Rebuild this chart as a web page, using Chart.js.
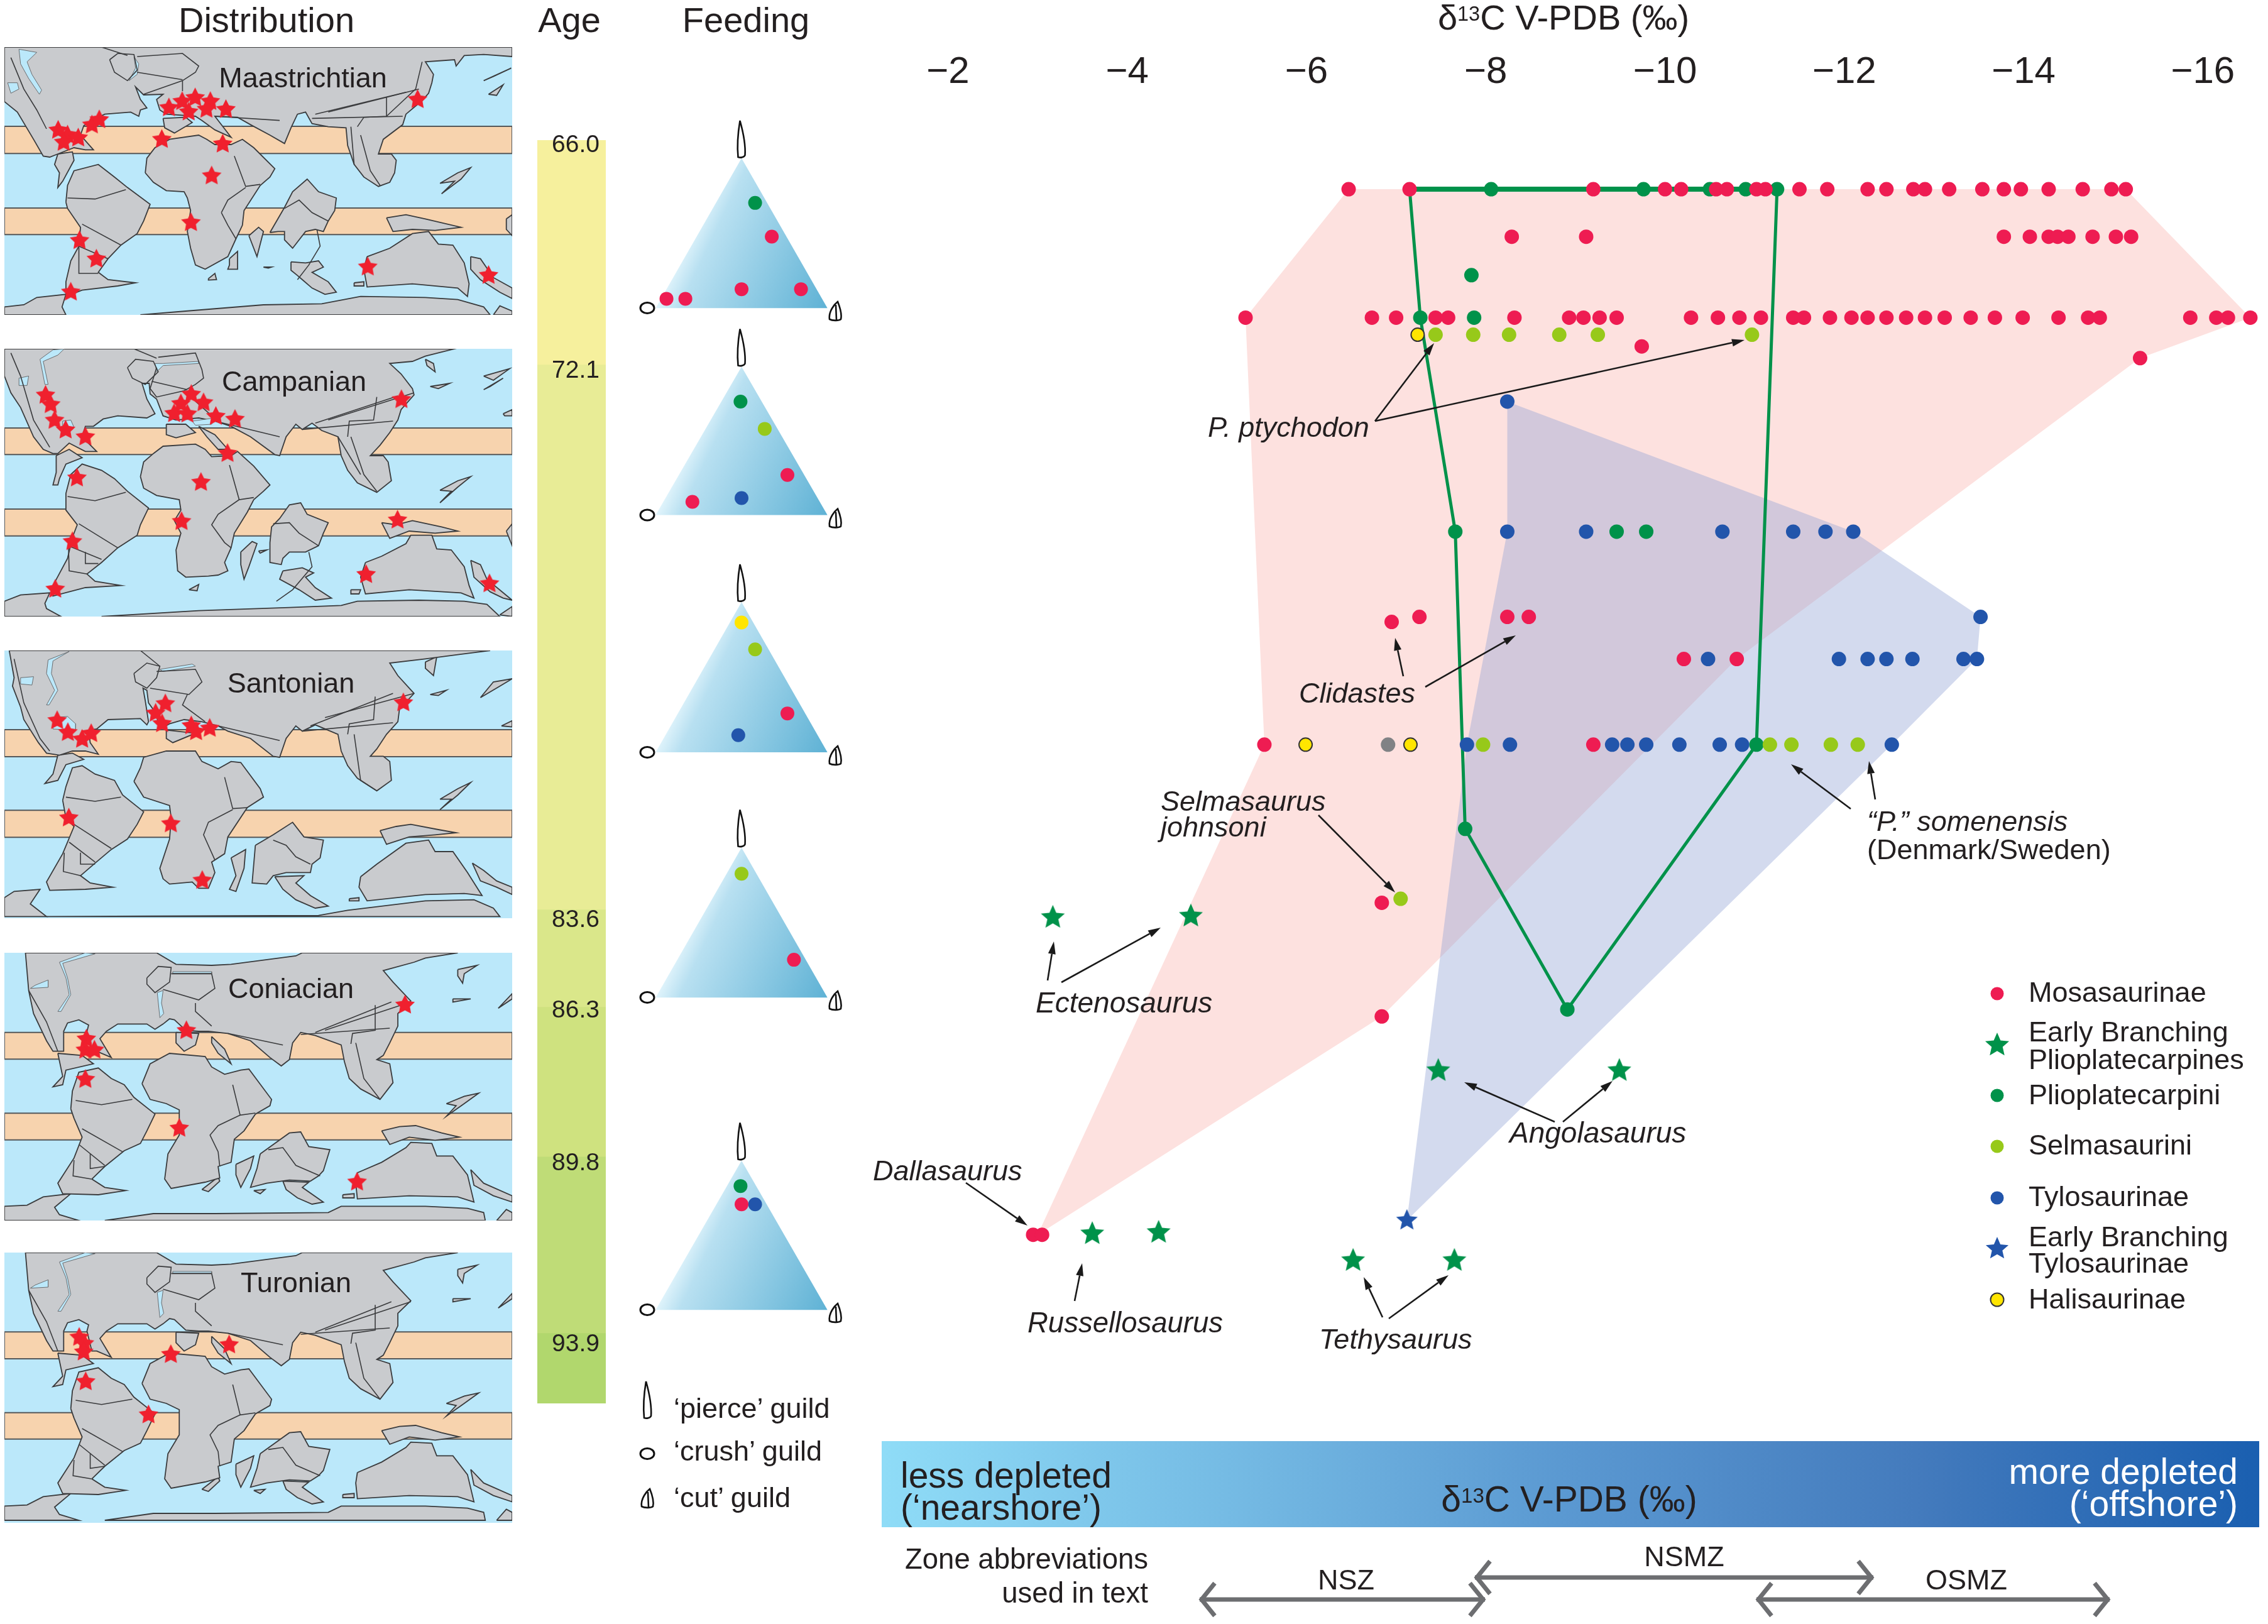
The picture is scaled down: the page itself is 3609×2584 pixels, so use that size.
<!DOCTYPE html>
<html><head><meta charset="utf-8">
<script src="https://cdn.jsdelivr.net/npm/chart.js@4/dist/chart.umd.js"></script>
<style>
html,body{margin:0;padding:0;background:#fff;width:3609px;height:2584px;overflow:hidden}
body{position:relative;font-family:"Liberation Sans",Arial,sans-serif;color:#231f20}
canvas{position:absolute;display:block}
.t{position:absolute;white-space:nowrap;transform:translateY(-50%);line-height:1}
.c{transform:translate(-50%,-50%)}
.r{transform:translate(-100%,-50%)}
.i{font-style:italic}
sup{font-size:58%;vertical-align:baseline;position:relative;top:-.42em;line-height:0}
svg{position:absolute;left:0;top:0}
</style></head><body>
<script>
/* ---------- main chart: d13C (per mil) vs. stratigraphic level ---------- */
const deltaTicks=[-2,-4,-6,-8,-10,-12,-14,-16];
const mosasaurinae=[
[-6.47,67.47],[-7.15,67.47],[-9.20,67.47],[-10.00,67.47],[-10.18,67.47],[-10.57,67.47],[-10.69,67.47],[-11.02,67.47],[-11.12,67.47],[-11.50,67.47],[-11.81,67.47],[-12.26,67.47],[-12.47,67.47],[-12.77,67.47],[-12.90,67.47],[-13.17,67.47],[-13.54,67.47],[-13.78,67.47],[-13.97,67.47],[-14.28,67.47],[-14.66,67.47],[-14.98,67.47],[-15.14,67.47],
[-8.29,68.89],[-9.12,68.89],[-13.78,68.89],[-14.07,68.89],[-14.28,68.89],[-14.38,68.89],[-14.50,68.89],[-14.77,68.89],[-15.03,68.89],[-15.20,68.89],
[-5.32,71.31],[-6.73,71.31],[-7.00,71.31],[-7.44,71.31],[-7.58,71.31],[-8.32,71.31],[-8.93,71.31],[-9.09,71.31],[-9.27,71.31],[-9.46,71.31],[-10.29,71.31],[-10.59,71.31],[-10.83,71.31],[-11.07,71.31],[-11.43,71.31],[-11.55,71.31],[-11.84,71.31],[-12.08,71.31],[-12.26,71.31],[-12.47,71.31],[-12.69,71.31],[-12.90,71.31],[-13.12,71.31],[-13.41,71.31],[-13.68,71.31],[-13.99,71.31],[-14.39,71.31],[-14.72,71.31],[-14.85,71.31],[-15.86,71.31],[-16.15,71.31],[-16.28,71.31],[-16.53,71.31],
[-9.74,72.17],[-15.30,72.52],
[-7.26,80.26],[-8.24,80.26],[-8.48,80.26],[-6.95,80.41],
[-10.21,81.52],[-10.80,81.52],
[-5.53,84.08],[-9.20,84.08],
[-6.84,88.81],[-6.84,92.21],[-2.95,98.74],[-3.05,98.74]];
const plioplatecarpini=[[-8.06,67.47],[-9.76,67.47],[-10.50,67.47],[-10.90,67.47],[-11.25,67.47],[-7.84,70.04],[-7.27,71.31],[-7.87,71.31],[-7.66,77.71],[-9.46,77.71],[-9.79,77.71],[-11.02,84.08],[-7.77,86.60],[-8.91,92.0]];
const selmasaurini=[[-7.44,71.82],[-7.86,71.82],[-8.26,71.82],[-8.82,71.82],[-9.25,71.82],[-10.97,71.82],[-7.97,84.08],[-11.17,84.08],[-11.41,84.08],[-11.85,84.08],[-12.15,84.08],[-7.05,88.69]];
const tylosaurinae=[[-8.24,73.82],[-8.24,77.71],[-9.12,77.71],[-10.64,77.71],[-11.43,77.71],[-11.79,77.71],[-12.10,77.71],[-13.52,80.26],[-10.48,81.52],[-11.94,81.52],[-12.26,81.52],[-12.47,81.52],[-12.76,81.52],[-13.33,81.52],[-13.48,81.52],[-7.79,84.08],[-8.27,84.08],[-9.41,84.08],[-9.58,84.08],[-9.79,84.08],[-10.16,84.08],[-10.61,84.08],[-10.86,84.08],[-12.53,84.08]];
const halisaurinae=[[-7.24,71.82],[-5.99,84.08],[-7.16,84.08]];
const unassigned=[[-6.91,84.08]];
const earlyPlioplatecarpines=[[-3.17,89.25],[-4.71,89.21],[-7.47,93.83],[-9.49,93.83],[-3.61,98.71],[-4.35,98.67],[-6.52,99.51],[-7.65,99.51]];
const earlyTylosaurinae=[[-7.12,98.31]];
const mosasaurineEnvelope=[[-6.47,67.47],[-15.14,67.47],[-16.53,71.31],[-15.30,72.52],[-10.80,81.52],[-6.84,92.21],[-3.00,98.74],[-5.53,84.08],[-5.32,71.31]];
const tylosaurineEnvelope=[[-8.24,73.82],[-12.10,77.71],[-13.52,80.26],[-13.48,81.52],[-12.53,84.08],[-7.12,98.31],[-7.79,84.08],[-8.24,77.71]];
const plioplatecarpineEnvelope=[[-7.15,67.47],[-11.25,67.47],[-11.02,84.08],[-8.91,92.0],[-7.77,86.60],[-7.66,77.71],[-7.27,71.31],[-7.15,67.47]];
const plioplatecarpineTop=[[-7.15,67.47],[-11.25,67.47]];

/* ---------- age column ---------- */
const ageBoundaries=[66.0,72.1,83.6,86.3,89.8,93.9,95.5];
const ageDrawnFraction=[0,0.1776,0.6089,0.686,0.8045,0.9443,1];
const ageColours=['#f6f09d','#e8ec96','#dae78a','#cfe27f','#bfdc77','#b1d76d'];
const ageLabels=['66.0','72.1','83.6','86.3','89.8','93.9'];

/* ---------- feeding ternaries: [x,y] in the triangle's unit frame ---------- */
const feedingPanels=[
 {red:[[.676,.477],[.5,.126],[.846,.126],[.063,.062],[.173,.062]],green:[[.579,.702]],lime:[],blue:[],yellow:[]},
 {red:[[.767,.27],[.214,.089]],green:[[.494,.765]],lime:[[.635,.581]],blue:[[.5,.114]],yellow:[]},
 {red:[[.767,.259]],green:[],lime:[[.579,.685]],blue:[[.481,.114]],yellow:[[.5,.864]]},
 {red:[[.805,.252]],green:[],lime:[[.5,.826]],blue:[],yellow:[]},
 {red:[[.5,.707]],green:[[.494,.83]],lime:[],blue:[[.579,.707]],yellow:[]}
];
const triangleOutline=[[0,0],[1,0],[.5,1],[0,0]];

/* ---------- palaeogeographic maps (traced outlines) ---------- */
const maastrichtianLand=[
[[0,0],[1568,0],[1568,45],[1480,35],[1420,40],[1395,90],[1390,60],[1300,70],[1325,130],[1320,170],[1310,220],[1290,255],[1240,320],[1230,370],[1170,440],[1155,510],[1195,510],[1210,540],[1205,600],[1190,645],[1155,665],[1110,620],[1080,560],[1060,470],[1055,385],[1000,380],[950,365],[930,310],[905,320],[885,385],[865,460],[820,420],[760,370],[720,335],[650,330],[680,390],[700,430],[650,395],[610,350],[590,330],[500,320],[480,300],[470,250],[490,225],[430,228],[405,190],[420,250],[440,290],[420,300],[415,330],[390,310],[310,320],[270,350],[245,375],[235,420],[275,490],[250,490],[215,480],[165,510],[140,525],[120,520],[90,440],[40,310],[0,260]],
[[490,340],[560,335],[580,360],[525,410],[495,385]],
[[165,510],[210,500],[215,540],[180,640],[165,670],[170,600],[155,560]],
[[190,740],[195,660],[215,590],[290,560],[340,620],[380,670],[450,750],[430,830],[410,890],[360,945],[320,1010],[290,1075],[320,1110],[405,1125],[350,1140],[240,1160],[190,1190],[190,1120],[205,1020],[230,950],[235,860],[195,770]],
[[435,600],[440,530],[465,480],[510,440],[600,420],[625,440],[650,465],[700,465],[735,440],[770,480],[835,580],[820,620],[790,660],[740,780],[735,850],[715,915],[690,1000],[620,1060],[590,1040],[575,960],[565,880],[575,780],[565,720],[555,690],[500,685],[460,645]],
[[755,900],[785,860],[800,880],[780,1000],[770,960]],
[[630,1105],[650,1080],[655,1110],[630,1112]],[[800,1050],[825,1050],[815,1055]],
[[695,1010],[720,975],[720,1060],[690,1060],[695,1040]],
[[820,885],[865,765],[890,690],[935,630],[970,690],[1025,720],[1020,780],[1000,830],[985,880],[960,870],[930,880],[890,960],[865,920],[865,880],[845,880]],
[[885,1025],[930,1030],[970,1020],[985,1050],[950,1075],[1000,1120],[1025,1170],[990,1180],[950,1150],[920,1110],[905,1090],[885,1065]],
[[0,1240],[60,1230],[100,1195],[190,1180],[178,1240],[190,1278],[0,1278]],
[[420,1278],[560,1260],[800,1230],[980,1225],[1100,1190],[1300,1195],[1400,1205],[1480,1240],[1500,1278]],
[[1510,1278],[1530,1235],[1568,1260],[1568,1278]],
[[1120,1000],[1190,960],[1260,890],[1310,880],[1340,940],[1385,945],[1420,1030],[1435,1130],[1430,1190],[1400,1150],[1260,1130],[1120,1145],[1110,1060]],
[[1180,815],[1240,800],[1300,820],[1410,860],[1330,875],[1260,870],[1200,880]],
[[1440,1000],[1470,1010],[1510,1100],[1568,1150],[1568,1200],[1530,1170],[1470,1110],[1440,1060]],
[[1345,650],[1400,600],[1440,575],[1410,630],[1350,700],[1390,640]],[[1480,160],[1565,100],[1510,140]],[[1495,225],[1540,180],[1520,230]],[[1550,820],[1568,800],[1568,900],[1550,870]],[[1080,1125],[1110,1120],[1110,1140],[1080,1140]]];
const maastrichtianSeas=[[[45,10],[100,25],[70,70],[85,130],[115,205],[108,225],[75,150],[50,80]],[[400,45],[415,80],[410,130],[385,160],[405,100]],[[10,170],[40,170],[45,200],[20,220]]];
const maastrichtianPlates=[[[710,520],[745,665],[790,655]],[[670,790],[690,730],[745,670]],[[670,790],[690,850],[715,915]],[[195,720],[280,725],[375,680]],[[240,845],[360,945]],[[230,950],[320,1010]],[[230,955],[230,1080],[290,1080]],[[325,60],[350,30],[400,35],[410,110],[380,160],[340,120],[325,60]],[[300,0],[380,40]],[[410,45],[550,30],[600,90],[590,120],[550,160],[430,225]],[[410,120],[550,155]],[[550,160],[550,210]],[[960,320],[1240,215]],[[1000,310],[1280,200]],[[1180,240],[1180,330],[1110,335],[1090,380]],[[1100,420],[1130,590],[1160,660]],[[1070,380],[1080,560]],[[650,330],[850,350]],[[950,340],[1230,330]],[[20,50],[60,200],[100,300],[130,390]],[[865,770],[910,730],[950,790],[1000,830]],[[965,870],[975,950],[940,1040],[905,1110]],[[1290,70],[1270,200],[1180,330]]];
const maastrichtianBands=[[378,508],[768,895]];
const maastrichtianStars=[[166,397],[195,420],[183,455],[228,434],[270,372],[293,347],[486,441],[508,290],[549,260],[589,242],[636,260],[569,310],[624,297],[684,298],[674,463],[1276,251],[640,615],[576,838],[232,924],[284,1012],[205,1170],[1122,1050],[1495,1090]];

const campanianLand=[
[[0,0],[1390,0],[1300,35],[1260,60],[1190,70],[1225,120],[1260,190],[1265,220],[1225,290],[1215,340],[1190,400],[1160,460],[1130,510],[1170,510],[1185,540],[1195,630],[1150,685],[1090,640],[1060,580],[1040,510],[1030,420],[980,390],[950,355],[920,385],[900,360],[870,420],[850,510],[835,505],[760,420],[700,370],[650,345],[600,330],[530,340],[490,320],[480,280],[470,240],[450,215],[447,165],[425,165],[440,240],[465,310],[440,330],[350,320],[305,335],[275,370],[250,370],[240,420],[285,490],[250,490],[200,450],[165,500],[150,500],[120,480],[90,420],[50,280],[20,210],[0,130]],
[[500,360],[560,360],[590,400],[530,425],[500,410]],
[[600,370],[650,410],[690,480],[660,480],[625,420]],
[[160,510],[200,480],[240,520],[190,550],[170,620],[165,650],[150,650],[160,590]],
[[190,740],[190,690],[205,600],[240,550],[300,580],[340,620],[380,680],[445,760],[420,840],[410,890],[350,950],[300,1020],[255,1075],[280,1110],[360,1130],[250,1140],[150,1180],[150,1130],[195,1000],[210,900],[225,840],[190,770]],
[[420,610],[430,540],[460,500],[490,465],[590,455],[620,480],[640,515],[700,510],[720,490],[770,560],[820,650],[800,680],[770,720],[750,780],[710,880],[700,950],[680,1020],[690,1060],[660,1080],[630,1085],[560,1090],[535,1060],[530,960],[545,880],[525,820],[545,770],[540,720],[470,700],[430,665]],
[[730,970],[765,920],[780,930],[755,1040],[740,1100],[730,1030]],
[[570,1150],[600,1125],[595,1155]],[[785,965],[810,960],[790,975]],
[[820,925],[825,850],[850,810],[880,745],[915,735],[935,790],[1000,830],[985,880],[970,940],[930,970],[880,970],[860,1000],[855,1030],[820,1020]],
[[860,1060],[920,1045],[955,1070],[930,1090],[960,1140],[1010,1190],[960,1200],[910,1150],[850,1100]],
[[1115,1020],[1165,990],[1240,930],[1255,890],[1320,890],[1335,955],[1380,960],[1420,1040],[1435,1130],[1450,1190],[1410,1165],[1250,1150],[1115,1170],[1100,1090]],
[[1165,830],[1210,840],[1260,820],[1350,850],[1400,870],[1330,880],[1250,870],[1190,905]],
[[1440,1010],[1470,1030],[1490,1100],[1568,1200],[1540,1190],[1500,1160],[1450,1090]],
[[1345,675],[1400,630],[1440,610],[1400,660],[1345,735],[1380,680]],[[1480,130],[1560,95],[1510,150]],[[1315,180],[1375,165],[1340,190]],[[1480,195],[1540,140],[1500,180]],[[1540,310],[1568,290],[1568,320],[1545,320]],[[1300,50],[1325,70],[1330,110],[1305,80]],[[1070,1150],[1100,1150],[1095,1170],[1070,1170]],[[1550,870],[1568,835],[1568,940]],
[[0,1205],[50,1175],[140,1165],[125,1215],[130,1240],[175,1278],[0,1278]],
[[300,1278],[600,1250],[880,1235],[1040,1225],[1090,1205],[1280,1200],[1420,1205],[1490,1220],[1530,1278]],
[[1530,1270],[1568,1230],[1568,1278]]];
const campanianSeas=[[[45,140],[75,130],[70,175],[45,175]],[[185,0],[150,5],[110,50],[125,170],[135,170],[120,60],[165,30]],[[180,345],[205,340],[215,375],[210,385],[180,375]],[[465,70],[490,70],[600,60],[600,70],[490,80],[470,110]],[[580,345],[650,330],[640,360],[590,365]]];
const campanianPlates=[[[695,555],[725,720],[770,710]],[[725,720],[660,790],[640,840],[680,925],[700,950]],[[195,705],[280,725],[375,685]],[[230,835],[350,950]],[[205,945],[300,1005]],[[250,970],[250,1025],[290,1025]],[[198,950],[200,1060],[255,1075]],[[380,90],[405,50],[460,60],[475,110],[435,170],[395,140],[380,90]],[[400,0],[470,45]],[[475,40],[590,20],[610,100],[615,140],[590,170],[555,200],[470,230],[450,190],[470,90]],[[455,155],[565,195]],[[590,250],[655,340]],[[960,355],[1215,225]],[[1000,340],[1265,210]],[[1150,230],[1140,340],[1065,345],[1060,420]],[[1070,420],[1110,600],[1150,680]],[[1030,420],[1100,600]],[[650,345],[850,420]],[[920,385],[1200,345]],[[830,835],[880,830],[910,880],[970,940]],[[940,970],[950,1040],[890,1150],[840,1205]],[[20,20],[50,130],[90,340],[140,470]]];
const campanianBands=[[378,505],[765,893]];
const campanianStars=[[127,222],[143,267],[155,342],[189,388],[250,421],[224,617],[210,921],[157,1148],[577,218],[545,263],[615,258],[524,310],[565,312],[653,323],[712,337],[689,500],[1226,243],[607,638],[547,825],[1214,818],[1117,1078],[1498,1122]];

const santonianLand=[
[[15,0],[1500,0],[1400,20],[1300,40],[1190,60],[1215,120],[1265,205],[1220,280],[1215,340],[1180,400],[1150,470],[1130,505],[1170,505],[1190,530],[1195,620],[1150,670],[1090,610],[1060,550],[1040,480],[1030,400],[960,355],[920,385],[900,360],[870,420],[850,510],[830,505],[760,420],[690,385],[660,360],[610,340],[555,330],[510,350],[480,375],[468,300],[445,250],[440,190],[428,180],[435,240],[445,340],[440,355],[420,325],[320,330],[285,375],[260,380],[265,440],[290,495],[250,480],[210,480],[170,500],[130,490],[105,440],[60,330],[50,270],[25,170],[30,130]],
[[500,380],[590,395],[520,440],[500,420]],
[[165,500],[210,490],[245,520],[190,545],[165,620],[125,635],[150,590]],
[[180,715],[190,650],[210,560],[240,550],[280,590],[340,620],[365,690],[430,770],[410,830],[380,900],[330,950],[280,1015],[235,1075],[265,1110],[335,1130],[250,1140],[140,1145],[130,1105],[180,970],[215,840],[190,800]],
[[400,625],[420,560],[430,510],[500,480],[590,480],[610,530],[660,565],[700,530],[730,535],[790,660],[800,700],[750,750],[690,890],[680,970],[640,1010],[650,1060],[630,1135],[600,1135],[580,1105],[510,1115],[490,1090],[480,1040],[510,900],[515,800],[510,740],[430,700]],
[[700,990],[745,950],[740,1040],[715,1150],[695,1140],[715,1075]],
[[775,930],[830,880],[890,820],[925,890],[985,905],[975,990],[950,1020],[945,1060],[870,1060],[830,1075],[810,1115],[765,1110]],
[[835,1080],[925,1075],[900,1110],[945,1170],[1000,1220],[960,1230],[900,1190],[860,1140]],
[[1100,1080],[1150,1020],[1240,920],[1310,905],[1330,960],[1385,960],[1430,1060],[1475,1170],[1420,1160],[1300,1165],[1120,1195],[1095,1130]],
[[1160,860],[1210,840],[1255,830],[1340,855],[1395,870],[1330,880],[1250,890],[1180,925]],
[[1445,1015],[1480,1050],[1520,1100],[1568,1130],[1568,1165],[1520,1130],[1470,1100]],
[[1345,710],[1400,660],[1440,630],[1400,690],[1345,760],[1380,710]],[[1470,225],[1510,150],[1568,135],[1530,170]],[[1315,210],[1365,190],[1340,215]],[[1300,55],[1335,30],[1325,120],[1300,85]],[[1535,360],[1568,335],[1568,365]],[[1065,1185],[1095,1180],[1095,1195],[1065,1195]],
[[0,1180],[30,1150],[110,1140],[80,1210],[130,1270],[0,1270]],
[[130,1270],[440,1268],[970,1265],[1060,1240],[1300,1195],[1450,1190],[1510,1230],[1530,1270]]];
const santonianSeas=[[[200,5],[135,45],[130,110],[155,190],[130,260],[138,260],[165,190],[145,110],[150,50]],[[50,130],[90,125],[85,165],[50,160]],[[480,90],[580,65],[590,75],[490,100]],[[150,320],[195,315],[220,350],[220,380],[150,375]]];
const santonianPlates=[[[680,605],[705,755],[750,750]],[[705,760],[630,820],[615,880],[650,1000]],[[190,700],[280,720],[360,700]],[[215,830],[330,945]],[[200,915],[280,1010]],[[235,965],[235,1020],[280,1020]],[[185,965],[182,1055],[235,1075]],[[400,110],[440,60],[480,75],[470,130],[440,180],[405,150],[400,110]],[[470,100],[590,90],[610,150],[570,210],[450,180]],[[420,0],[480,75]],[[565,210],[550,260],[620,340]],[[945,360],[1200,205]],[[990,320],[1265,205]],[[1145,220],[1140,330],[1065,350],[1060,400]],[[1080,400],[1100,620],[1145,665]],[[830,905],[870,930],[900,985],[945,1020]],[[660,360],[850,430]],[[920,385],[1200,345]],[[30,40],[60,250],[110,420],[140,480]]];
const santonianBands=[[378,507],[763,892]];
const santonianStars=[[163,335],[196,392],[240,424],[268,397],[497,255],[467,300],[487,350],[577,360],[592,388],[634,372],[1232,250],[199,800],[514,828],[611,1098]];

const turonianLand=[
[[65,0],[470,0],[530,55],[640,60],[700,55],[900,15],[920,0],[1400,0],[1300,25],[1265,45],[1170,85],[1200,140],[1255,230],[1215,290],[1215,350],[1190,430],[1170,490],[1150,510],[1190,530],[1200,620],[1160,700],[1100,650],[1065,600],[1050,520],[1040,440],[960,395],[915,380],[890,430],[880,510],[855,540],[820,500],[760,420],[690,385],[630,375],[600,375],[560,370],[525,320],[510,315],[490,340],[465,365],[440,340],[350,340],[315,375],[295,410],[330,500],[285,470],[270,470],[255,375],[260,345],[230,320],[195,335],[183,375],[183,470],[150,470],[130,420],[90,290],[75,180]],
[[530,380],[600,385],[590,440],[555,470],[530,430]],
[[640,400],[680,460],[700,530],[660,480],[640,430]],
[[165,480],[240,490],[275,530],[190,560],[180,630],[150,640],[180,590]],
[[205,745],[210,660],[230,570],[290,550],[330,600],[370,630],[400,690],[465,770],[440,850],[420,910],[370,945],[310,1020],[270,1080],[310,1120],[375,1135],[290,1155],[180,1150],[165,1100],[215,980],[240,880],[215,790]],
[[425,625],[450,530],[510,480],[620,495],[640,545],[680,580],[730,560],[755,555],[825,700],[820,730],[775,770],[740,850],[710,890],[700,1000],[660,1020],[665,1075],[620,1095],[515,1125],[495,1080],[505,960],[540,870],[540,750],[500,720],[450,700]],
[[715,1010],[770,970],[760,1030],[730,1120],[715,1060]],
[[610,1130],[660,1070],[665,1090],[630,1140]],
[[790,960],[880,860],[915,855],[940,925],[1005,940],[985,1040],[970,1065],[945,1090],[880,1085],[810,1100],[760,1120],[780,1030]],
[[860,1090],[940,1095],[920,1120],[985,1190],[950,1200],[905,1170],[870,1130]],
[[770,1135],[805,1130],[790,1150]],
[[1090,1050],[1165,1000],[1240,930],[1255,905],[1320,910],[1335,970],[1385,970],[1430,1060],[1450,1190],[1400,1165],[1250,1160],[1090,1175],[1085,1100]],
[[1165,850],[1220,830],[1270,825],[1350,860],[1405,880],[1330,895],[1250,880],[1190,915]],
[[1440,1035],[1480,1100],[1568,1160],[1568,1190],[1510,1160],[1450,1110]],
[[1365,720],[1420,685],[1465,670],[1420,720],[1365,780],[1395,730]],[[1400,80],[1460,60],[1420,100],[1415,145],[1400,110]],[[1385,220],[1440,220],[1385,235]],[[1525,265],[1568,195],[1568,220]],[[1070,10],[1170,40],[1080,40]],[[1045,1155],[1080,1150],[1080,1170],[1045,1170]],
[[0,1210],[70,1205],[120,1165],[205,1150],[155,1215],[170,1250],[230,1278],[0,1278]],
[[310,1278],[460,1245],[650,1245],[1000,1240],[1040,1210],[1300,1210],[1430,1220],[1480,1240],[1485,1278]],
[[1520,1278],[1550,1225],[1568,1240],[1568,1278]]];
const turonianSeas=[[[250,0],[170,45],[190,120],[200,200],[165,280],[175,280],[205,200],[195,120],[180,50],[280,5]],[[95,155],[135,130],[135,165],[80,170]],[[520,90],[640,90],[640,98],[520,98]],[[472,190],[490,180],[485,240],[492,290],[480,310]]];
const turonianPlates=[[[705,630],[728,775],[775,765]],[[728,775],[660,825],[635,870],[660,950],[665,1020]],[[220,705],[300,725],[395,700]],[[240,840],[365,950]],[[230,915],[310,1015]],[[265,960],[265,1030],[310,1020]],[[215,990],[212,1065],[268,1080]],[[440,120],[475,65],[515,70],[510,140],[465,190],[440,150],[440,120]],[[515,100],[640,100],[650,170],[600,225],[490,175]],[[590,240],[590,280],[640,350]],[[960,380],[1195,235]],[[990,370],[1255,235]],[[1145,250],[1145,370],[1075,385],[1070,435]],[[1085,430],[1110,600],[1160,700]],[[815,940],[860,930],[900,1015],[975,1065]],[[690,385],[860,440]],[[915,390],[1190,360]],[[75,180],[130,330],[165,470]]];
const coniacianBands=[[380,508],[766,893]];
const coniacianStars=[[253,412],[250,465],[278,465],[562,372],[1237,250],[250,605],[540,838],[1089,1095]];
const turonianBands=[[379,507],[764,890]];
const turonianStars=[[231,405],[247,435],[245,475],[514,487],[694,441],[251,617],[445,775]];

const stageNames=['Maastrichtian','Campanian','Santonian','Coniacian','Turonian'];

/* ---------- styling helpers ---------- */
const RED='#ee1c52',GREEN='#00924a',LIME='#97c91a',BLUE='#2255ab',YELLOW='#ffe500',GREY='#808285',INK='#231f20';
const FONT='"Liberation Sans", Arial, sans-serif';
Chart.defaults.font.family=FONT;
Chart.defaults.animation=false;
function el(tag,parent){const e=document.createElement(tag);(parent||document.body).appendChild(e);return e;}
function makeCanvas(x,y,w,h,bg){const c=el('canvas');c.width=w;c.height=h;c.style.left=x+'px';c.style.top=y+'px';c.style.width=w+'px';c.style.height=h+'px';if(bg)c.style.background=bg;return c;}
function label(text,x,y,size,cls,colour){const d=el('div');d.className='t '+(cls||'');d.innerHTML=text;d.style.left=x+'px';d.style.top=y+'px';d.style.fontSize=size+'px';if(colour)d.style.color=colour;return d;}
function star(colour,r,inner){const c=document.createElement('canvas');const s=Math.ceil(r*2+2);c.width=s;c.height=s;const g=c.getContext('2d');g.fillStyle=colour;g.beginPath();for(let i=0;i<10;i++){const a=-Math.PI/2+i*Math.PI/5,q=i%2?r*(inner||.42):r;g.lineTo(s/2+q*Math.cos(a),s/2+q*Math.sin(a));}g.closePath();g.fill();return c;}
const baseOpts=(x,y)=>({responsive:false,devicePixelRatio:1,animation:false,events:[],layout:{padding:0,autoPadding:false},plugins:{legend:{display:false},tooltip:{enabled:false}},scales:{x:Object.assign({type:'linear',display:false},x),y:Object.assign({type:'linear',display:false},y)}});
const dots=(data,colour,r,order,extra)=>Object.assign({data,showLine:false,pointRadius:r,pointBackgroundColor:colour,pointBorderWidth:0,pointBorderColor:colour,order,clip:false},extra||{});
const poly=(pts,fillColour,line,w,order)=>({data:pts.concat([pts[0]]),showLine:true,fill:'shape',backgroundColor:fillColour,borderColor:line,borderWidth:w,pointRadius:0,order,tension:0});
const open=(pts,line,w,order)=>({data:pts,showLine:true,fill:false,borderColor:line,borderWidth:w,pointRadius:0,order,tension:0});

/* ---------- main chart ---------- */
const mainCanvas=makeCanvas(1350,0,2259,2584);
const mainOpts=baseOpts({min:-16.727,max:-0.889,reverse:true},{min:64.63,max:110.38,reverse:true});
Object.assign(mainOpts.scales.x,{display:true,position:'top',
  afterBuildTicks:s=>{s.ticks=deltaTicks.map(v=>({value:v}));},
  afterFit:s=>{s.height=150;},
  grid:{display:false},border:{display:false},
  ticks:{autoSkip:false,maxRotation:0,padding:-9,color:INK,font:{size:60,family:FONT},callback:v=>'\u2212'+Math.abs(v)}});
new Chart(mainCanvas,{type:'scatter',data:{datasets:[
  poly(mosasaurineEnvelope,'#fde1df','rgba(0,0,0,0)',0,20),
  poly(tylosaurineEnvelope,'rgba(145,162,212,.4)','rgba(0,0,0,0)',0,19),
  open(plioplatecarpineEnvelope,GREEN,5,10),
  open(plioplatecarpineTop,GREEN,8,9),
  dots(plioplatecarpini,GREEN,11.5,5),
  dots(selmasaurini,LIME,11.5,4),
  dots(tylosaurinae,BLUE,11.5,3),
  dots(unassigned,GREY,11.5,3),
  dots(mosasaurinae,RED,11.5,2),
  dots(halisaurinae,YELLOW,10.5,1,{pointBorderWidth:2,pointBorderColor:'#333'}),
  dots(earlyPlioplatecarpines,GREEN,8,1,{pointStyle:star(GREEN,20,.46)}),
  dots(earlyTylosaurinae,BLUE,8,1,{pointStyle:star(BLUE,18,.46)})
]},options:mainOpts});

/* ---------- age column: piecewise scale ---------- */
class StageScale extends Chart.LinearScale{
  getPixelForValue(v){
    let i=0;while(i<ageBoundaries.length-2&&v>ageBoundaries[i+1])i++;
    const a=ageBoundaries[i],b=ageBoundaries[i+1],fa=ageDrawnFraction[i],fb=ageDrawnFraction[i+1];
    return this.top+this.height*(fa+(v-a)/(b-a)*(fb-fa));
  }
}
StageScale.id='stage';StageScale.defaults={};
Chart.register(StageScale);
const ageCanvas=makeCanvas(855,223,109,2010);
const ageOpts=baseOpts({},{});
ageOpts.scales={x:{type:'category',display:false,offset:true},y:{type:'stage',display:false,min:66,max:95.5}};
new Chart(ageCanvas,{type:'bar',data:{labels:['Age'],datasets:ageColours.map((c,i)=>({data:[[ageBoundaries[i],ageBoundaries[i+1]]],backgroundColor:c,barPercentage:1,categoryPercentage:1,grouped:false,borderWidth:0}))},options:ageOpts});
const ageLabelY=[228,587,1461,1605,1848,2136];
ageLabels.forEach((t,i)=>label(t,916,ageLabelY[i],39,'c'));

/* ---------- feeding ternaries ---------- */
const triTop=[252,583.5,958,1348.5,1846.5],triH=[238,236,239,238.5,237.5];
feedingPanels.forEach((p,i)=>{
  const W=273.5,pad=.1,cx=1043.5-W*pad,cy=triTop[i]-triH[i]*pad,cw=Math.round(W*1.2),ch=Math.round(triH[i]*1.2);
  const c=makeCanvas(cx,cy,cw,ch);
  const g=c.getContext('2d').createLinearGradient(27,130,300,260);
  g.addColorStop(.18,'#e3f5fc');g.addColorStop(.3,'#b8e0f1');g.addColorStop(1,'#5fb2d5');
  new Chart(c,{type:'scatter',data:{datasets:[
    {data:triangleOutline,showLine:true,fill:'shape',backgroundColor:g,borderWidth:0,borderColor:'rgba(0,0,0,0)',pointRadius:0,order:9},
    dots(p.green,GREEN,11,4),dots(p.lime,LIME,11,3),dots(p.blue,BLUE,11,2),dots(p.red,RED,11,1),dots(p.yellow,YELLOW,11,1)
  ]},options:baseOpts({min:-pad,max:1+pad},{min:-pad,max:1+pad})});
});

/* ---------- maps ---------- */
const mapPanels=[
 {top:75,h:426,yMax:1278,land:maastrichtianLand,seas:maastrichtianSeas,plates:maastrichtianPlates,bands:maastrichtianBands,stars:maastrichtianStars},
 {top:555,h:426,yMax:1278,land:campanianLand,seas:campanianSeas,plates:campanianPlates,bands:campanianBands,stars:campanianStars},
 {top:1035,h:426,yMax:1278,land:santonianLand,seas:santonianSeas,plates:santonianPlates,bands:santonianBands,stars:santonianStars},
 {top:1516,h:426,yMax:1278,land:turonianLand,seas:turonianSeas,plates:turonianPlates,bands:coniacianBands,stars:coniacianStars},
 {top:1993,h:430,yMax:1290,land:turonianLand,seas:turonianSeas,plates:turonianPlates,bands:turonianBands,stars:turonianStars}];
const mapStar=star('#f0202e',16.5,.5);
mapPanels.forEach(m=>{
  const c=makeCanvas(7,m.top,808,m.h,'#bbe8fa');
  const ds=[];
  m.bands.forEach(b=>ds.push(poly([[0,b[0]],[1568,b[0]],[1568,b[1]],[0,b[1]]],'#f7d3ae','#55585a',2,30)));
  m.land.forEach(p=>ds.push(poly(p,'#c9cbce','#3a3b3d',1.8,20)));
  m.seas.forEach(p=>ds.push(poly(p,'#bbe8fa','#6b6d70',1,15)));
  m.plates.forEach(p=>ds.push(open(p,'#3a3b3d',1.6,10)));
  ds.push(dots(m.stars,'#f0202e',6,1,{pointStyle:mapStar}));
  new Chart(c,{type:'scatter',data:{datasets:ds},options:baseOpts({min:0,max:1568},{min:0,max:m.yMax,reverse:true})});
});

/* ---------- gradient strip ---------- */
const strip=el('div');strip.style.cssText='position:absolute;left:1403px;top:2293px;width:2192px;height:137px;background:linear-gradient(90deg,#8fdcf7 0%,#75bbe4 25%,#5a98d1 50%,#447bbd 75%,#1a5fb0 100%)';

/* ---------- annotations ---------- */
const NS='http://www.w3.org/2000/svg';
const svg=document.createElementNS(NS,'svg');svg.setAttribute('width',3609);svg.setAttribute('height',2584);document.body.appendChild(svg);
function sv(tag,attrs){const e=document.createElementNS(NS,tag);for(const k in attrs)e.setAttribute(k,attrs[k]);svg.appendChild(e);return e;}
function arrow(x1,y1,x2,y2){
  const a=Math.atan2(y2-y1,x2-x1),L=20,H=6,bx=x2-L*Math.cos(a),by=y2-L*Math.sin(a);
  sv('line',{x1,y1,x2:bx,y2:by,stroke:'#1a1a1a','stroke-width':2.6});
  sv('polygon',{points:`${x2},${y2} ${bx-H*Math.sin(a)},${by+H*Math.cos(a)} ${bx+H*Math.sin(a)},${by-H*Math.cos(a)}`,fill:'#1a1a1a'});
}
[[2188,670,2282,546],[2188,670,2776,541],[2233,1076,2220,1015],[2268,1093,2412,1011],[2098,1297,2220,1420],[2945,1287,2850,1216],[2984,1272,2974,1211],[1667,1560,1677,1498],[1689,1563,1847,1476],[2474,1785,2330,1722],[2487,1785,2566,1720],[1537,1882,1635,1950],[1710,2070,1722,2010],[2200,2096,2170,2032],[2210,2098,2305,2029]].forEach(a=>arrow(...a));
function zone(x1,x2,y){
  sv('line',{x1,y1:y,x2,y2:y,stroke:'#6d6e71','stroke-width':7});
  sv('polyline',{points:`${x1+24},${y-26} ${x1+3},${y} ${x1+24},${y+26}`,fill:'none',stroke:'#6d6e71','stroke-width':7});
  sv('polyline',{points:`${x2-24},${y-26} ${x2-3},${y} ${x2-24},${y+26}`,fill:'none',stroke:'#6d6e71','stroke-width':7});
}
zone(1909,2363,2545);zone(2347,2981,2510);zone(2795,3357,2545);

/* guild icons */
function pierce(x,y){sv('path',{d:`M${x-5},${y} C${x-7},${y-20} ${x-5},${y-40} ${x-2},${y-58} C${x+3},${y-40} ${x+7},${y-18} ${x+6},${y-3} C${x+4},${y+1} ${x-2},${y+1} ${x-5},${y}Z`,fill:'#fff',stroke:'#111','stroke-width':2.6});}
function crush(x,y){sv('ellipse',{cx:x,cy:y,rx:11,ry:8.5,fill:'#fff',stroke:'#111','stroke-width':3});}
function cut(x,y){sv('path',{d:`M${x-9},${y+13} C${x-11},${y} ${x},${y-12} ${x+4},${y-15} C${x+8},${y-5} ${x+11},${y+5} ${x+9},${y+13} C${x+5},${y+16} ${x-5},${y+15} ${x-9},${y+13}Z M${x+1},${y-10} L${x+2},${y+14}`,fill:'#fff',stroke:'#111','stroke-width':2.6});}
const triBaseY=[490,819.5,1197,1587,2084],triApexX=1179.5;
triTop.forEach((t,i)=>{pierce(triApexX,t-2);crush(1030,triBaseY[i]);cut(1329,triBaseY[i]+5);});
pierce(1030,2256);crush(1030,2313);cut(1030,2384);

/* legend markers */
const legendItems=[[1581,RED],[1743,GREEN],[1824,LIME],[1906,BLUE],[2068,YELLOW]];
legendItems.forEach(l=>sv('circle',{cx:3178,cy:l[0],r:10.5,fill:l[1],stroke:l[1]===YELLOW?'#333':'none','stroke-width':2}));
function legendStar(cx,cy,r,colour){let pts='';for(let i=0;i<10;i++){const a=-Math.PI/2+i*Math.PI/5,q=i%2?r*.46:r;pts+=(cx+q*Math.cos(a))+','+(cy+q*Math.sin(a))+' ';}sv('polygon',{points:pts,fill:colour});}
legendStar(3178,1663,20,GREEN);legendStar(3178,1987,19,BLUE);

/* ---------- text ---------- */
label('Distribution',424,32,56,'c');label('Age',906,32,56,'c');label('Feeding',1187,32,56,'c');
label('δ<sup>13</sup>C V-PDB (‰)',2488,28,56,'c');
[[482,123],[468,606],[463,1086],[463,1572],[471,2040]].forEach((p,i)=>label(stageNames[i],p[0],p[1],45,'c'));
label('‘pierce’ guild',1072,2240,45);label('‘crush’ guild',1072,2308,45);label('‘cut’ guild',1072,2382,45);
label('P. ptychodon',1922,679,45,'i');label('Clidastes',2067,1102,45,'i');
label('Selmasaurus',1847,1274,45,'i');label('johnsoni',1847,1315,45,'i');
label('“P.” somenensis',2971,1306,45,'i');label('(Denmark/Sweden)',2971,1351,45);
label('Ectenosaurus',1648,1595,46,'i');label('Angolasaurus',2402,1802,46,'i');
label('Dallasaurus',1389,1862,45,'i');label('Russellosaurus',1635,2105,45.5,'i');label('Tethysaurus',2099,2130,45,'i');
[['Mosasaurinae',1578],['Early Branching',1641],['Plioplatecarpines',1685],['Plioplatecarpini',1741],['Selmasaurini',1821],['Tylosaurinae',1903],['Early Branching',1967],['Tylosaurinae',2009],['Halisaurinae',2066]].forEach(l=>label(l[0],3228,l[1],45));
label('less depleted',1433,2347,57);label('(‘nearshore’)',1433,2398,57);
label('more depleted',3561,2341,57,'r','#fff');label('(‘offshore’)',3561,2392,57,'r','#fff');
label('δ<sup>13</sup>C V-PDB (‰)',2497,2385,57,'c');
label('Zone abbreviations',1827,2481,45.5,'r');label('used in text',1827,2535,45.5,'r');
label('NSZ',2142,2513,45,'c');label('NSMZ',2680,2476,45,'c');label('OSMZ',3129,2513,45,'c');
</script>
</body></html>
